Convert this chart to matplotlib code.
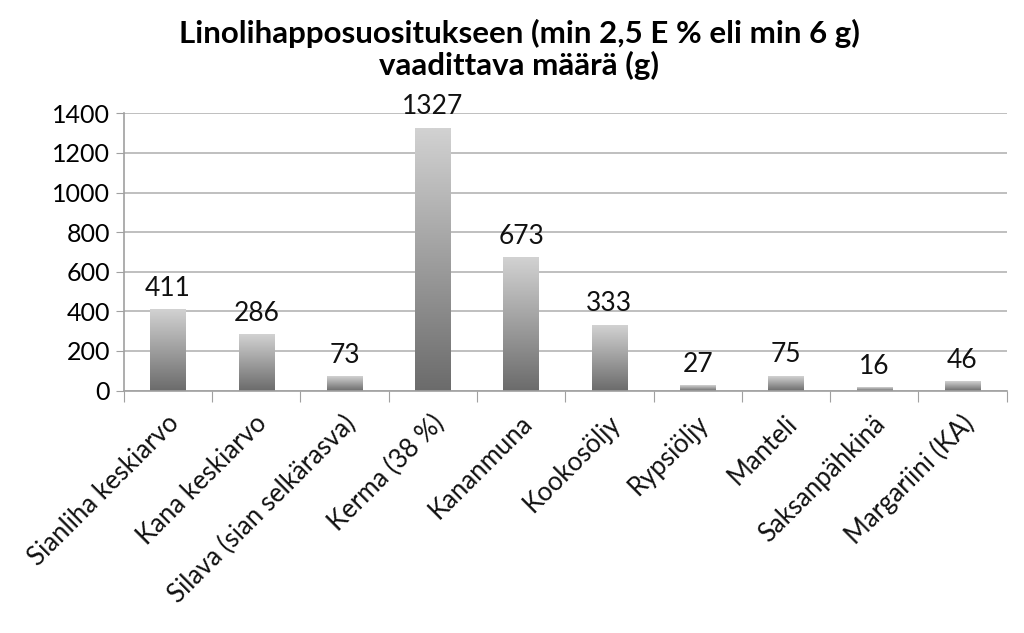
import numpy as np
import matplotlib.pyplot as plt
from matplotlib.colors import LinearSegmentedColormap

categories = ['Sianliha keskiarvo', 'Kana keskiarvo', 'Silava (sian selkärasva)',
              'Kerma (38 %)', 'Kananmuna', 'Kookosöljy', 'Rypsiöljy', 'Manteli',
              'Saksanpähkinä', 'Margariini (KA)']
values = [411, 286, 73, 1327, 673, 333, 27, 75, 16, 46]
yticks = [0, 200, 400, 600, 800, 1000, 1200, 1400]

plt.rcParams['font.family'] = ['Lato', 'DejaVu Sans']

fig = plt.figure(figsize=(10.24, 6.33), dpi=100)
ax = fig.add_axes([0.121, 0.383, 0.862, 0.438])

x = np.arange(len(categories))
bars = ax.bar(x, values, width=0.4, color='none', edgecolor='none', zorder=2)

# vertical gradient inside every bar: light at top, dark at bottom
cmap = LinearSegmentedColormap.from_list('g', ['#6b6b6b', '#d2d2d2'])
grad = np.linspace(0, 1, 256).reshape(-1, 1)
for b in bars:
    x0, y0 = b.get_x(), b.get_y()
    im = ax.imshow(grad, cmap=cmap, origin='lower', aspect='auto',
                   extent=(x0, x0 + b.get_width(), y0, y0 + b.get_height()),
                   zorder=2)
    im.set_clip_path(b)

for xi, v in zip(x, values):
    ax.annotate(str(v), xy=(xi, v), xytext=(0, 6), textcoords='offset points',
                ha='center', va='bottom', fontsize=19, color='#111111')

ax.set_xlim(-0.5, len(categories) - 0.5)
ax.set_ylim(0, 1400)
ax.set_yticks(yticks)
ax.tick_params(axis='y', labelsize=18, length=6, color='#a0a0a0', pad=4)
ax.yaxis.grid(True, color='#b4b4b4', linewidth=1.2, zorder=0)
ax.set_axisbelow(True)

# category boundaries as x ticks
ax.set_xticks(np.arange(-0.5, len(categories), 1.0))
ax.set_xticklabels([])
ax.tick_params(axis='x', length=8, color='#a0a0a0')
for xi, lab in zip(x, categories):
    ax.annotate(lab, xy=(xi, 0), xycoords='data', xytext=(5, -21),
                textcoords='offset points', rotation=45, ha='right', va='center',
                rotation_mode='anchor', fontsize=18.5, color='#111111')

for s in ['top', 'right']:
    ax.spines[s].set_visible(False)
ax.spines['left'].set_color('#a0a0a0')
ax.spines['bottom'].set_color('#a0a0a0')
ax.spines['left'].set_linewidth(1.2)
ax.spines['bottom'].set_linewidth(1.2)

fig.text(0.507, 0.922, 'Linolihapposuositukseen (min 2,5 E % eli min 6 g)\nvaadittava määrä (g)',
         ha='center', va='center', fontsize=22.5, fontweight='bold', linespacing=1.15)

fig.savefig('out.png', dpi=100)
